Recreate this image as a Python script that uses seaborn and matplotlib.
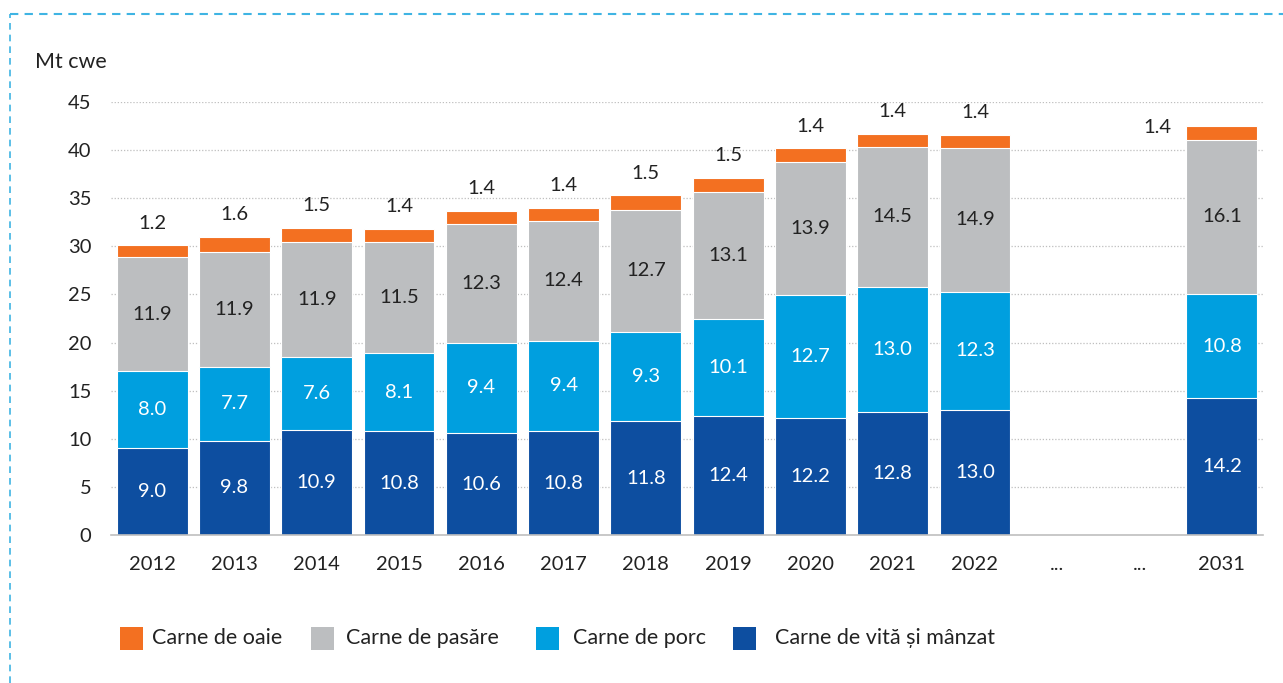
import pandas as pd
import seaborn as sns
import matplotlib.pyplot as plt
from matplotlib.patches import Rectangle
from matplotlib.lines import Line2D

# categories (the two gaps are shown as "...")
years = ["2012", "2013", "2014", "2015", "2016", "2017", "2018", "2019",
         "2020", "2021", "2022", "gap1", "gap2", "2031"]
tick_labels = ["2012", "2013", "2014", "2015", "2016", "2017", "2018", "2019",
               "2020", "2021", "2022", "...", "...", "2031"]
data_years = ["2012", "2013", "2014", "2015", "2016", "2017", "2018", "2019",
              "2020", "2021", "2022", "2031"]

vita = [9.0, 9.8, 10.9, 10.8, 10.6, 10.8, 11.8, 12.4, 12.2, 12.8, 13.0, 14.2]
porc = [8.0, 7.7, 7.6, 8.1, 9.4, 9.4, 9.3, 10.1, 12.7, 13.0, 12.3, 10.8]
pasare = [11.9, 11.9, 11.9, 11.5, 12.3, 12.4, 12.7, 13.1, 13.9, 14.5, 14.9, 16.1]
oaie = [1.2, 1.6, 1.5, 1.4, 1.4, 1.4, 1.5, 1.5, 1.4, 1.4, 1.4, 1.4]

names = ["Carne de oaie", "Carne de pasăre", "Carne de porc", "Carne de vită și mânzat"]
colors = ["#F37021", "#BCBEC0", "#009FDF", "#0D4EA0"]

df = pd.DataFrame({"an": data_years, "vita": vita, "porc": porc,
                   "pasare": pasare, "oaie": oaie})
df["c_vita"] = df["vita"]
df["c_porc"] = df["c_vita"] + df["porc"]
df["c_pasare"] = df["c_porc"] + df["pasare"]
df["c_oaie"] = df["c_pasare"] + df["oaie"]

sns.set_theme(style="white")
plt.rcParams["font.family"] = ["Lato", "DejaVu Sans"]

W, H = 1283, 683
fig = plt.figure(figsize=(W / 100, H / 100), dpi=100)
ax = fig.add_axes([111 / W, 148 / H, 1152 / W, 433 / H])

# draw tallest first so each layer sits on top of the previous
for col, c in zip(["c_oaie", "c_pasare", "c_porc", "c_vita"], colors):
    sns.barplot(data=df, x="an", y=col, order=years, color=c, width=0.86,
                saturation=1, edgecolor="white", linewidth=0.8, ax=ax)

ax.set_xlim(-0.5, 13.5)
ax.set_ylim(0, 45)
ax.set_yticks(range(0, 46, 5))
ax.set_xticks(range(len(years)))
ax.set_xticklabels(tick_labels)
ax.tick_params(axis="both", labelsize=14.5, colors="#222222", length=0)
ax.tick_params(axis="x", pad=15)
ax.tick_params(axis="y", pad=14)
ax.set_xlabel("")
ax.set_ylabel("")
for s in ["top", "right", "left"]:
    ax.spines[s].set_visible(False)
ax.spines["bottom"].set_color("#BFBFBF")
ax.spines["bottom"].set_linewidth(1.2)
for yv in range(5, 46, 5):
    ax.axhline(yv, color="#BFBFBF", linestyle=(0, (1, 1.5)), linewidth=0.9, zorder=0)
ax.set_axisbelow(True)

# value labels
pos = {y: i for i, y in enumerate(years)}
for _, r in df.iterrows():
    i = pos[r["an"]]
    ax.text(i, r["vita"] / 2, f"{r['vita']:.1f}", ha="center", va="center",
            color="white", fontsize=14.5)
    ax.text(i, r["c_vita"] + r["porc"] / 2, f"{r['porc']:.1f}", ha="center",
            va="center", color="white", fontsize=14.5)
    ax.text(i, r["c_porc"] + r["pasare"] / 2, f"{r['pasare']:.1f}", ha="center",
            va="center", color="#222222", fontsize=14.5)
    if r["an"] == "2031":
        ax.text(i - 0.78, r["c_oaie"] - 0.2, f"{r['oaie']:.1f}", ha="center",
                va="center", color="#222222", fontsize=14.5)
    else:
        ax.text(i, r["c_oaie"] + 2.3, f"{r['oaie']:.1f}", ha="center",
                va="center", color="#222222", fontsize=14.5)

fig.text(35 / W, 1 - 62 / H, "Mt cwe", ha="left", va="center",
         fontsize=15.5, color="#222222")

# legend drawn by hand to match the spacing of the original
sq_x = [120, 311, 536, 733]
txt_x = [152, 346, 573, 775]
for name, c, sx, tx in zip(names, colors, sq_x, txt_x):
    fig.add_artist(Rectangle((sx / W, 1 - 650 / H), 23 / W, 23 / H,
                             transform=fig.transFigure, facecolor=c, edgecolor="none"))
    fig.text(tx / W, 1 - 638 / H, name, ha="left", va="center",
             fontsize=15.5, color="#222222")

# dashed frame on top and left
border = "#3FB4E3"
fig.add_artist(Line2D([10 / W, 1], [1 - 14 / H, 1 - 14 / H], transform=fig.transFigure,
                      color=border, linestyle=(0, (4, 3)), linewidth=1.5))
fig.add_artist(Line2D([10 / W, 10 / W], [0, 1 - 14 / H], transform=fig.transFigure,
                      color=border, linestyle=(0, (4, 3)), linewidth=1.2))

fig.savefig("out.png", dpi=100)
